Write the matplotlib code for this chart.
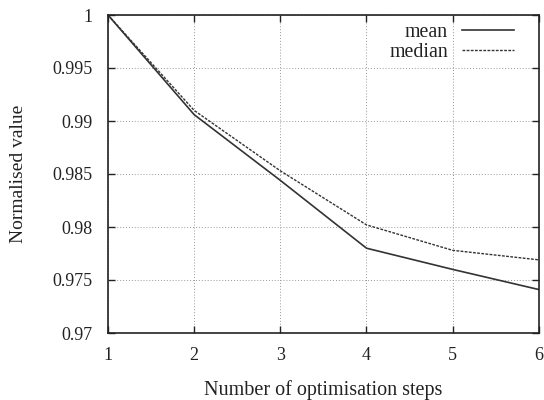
import matplotlib
matplotlib.use("Agg")
import matplotlib.pyplot as plt

# optimisation steps and normalised results
steps = [1, 2, 3, 4, 5, 6]
mean_vals = [1.0, 0.9906, 0.9844, 0.9780, 0.9760, 0.9741]
median_vals = [1.0, 0.9910, 0.9853, 0.9802, 0.9778, 0.9769]

yticks = [0.97, 0.975, 0.98, 0.985, 0.99, 0.995, 1.0]
ytick_labels = ["0.97", "0.975", "0.98", "0.985", "0.99", "0.995", "1"]

plt.rcParams.update({
    "font.family": "Liberation Serif",
    "font.size": 13,
})

fig = plt.figure(figsize=(5.44, 4.0), dpi=100)
ax = fig.add_axes([0.1985, 0.1675, 0.792, 0.795])

ax.plot(steps, mean_vals, color="#333333", linewidth=1.2, linestyle="-", label="mean")
ax.plot(steps, median_vals, color="#333333", linewidth=1.0, linestyle=(0, (2, 1)), label="median")

ax.set_xlim(1, 6)
ax.set_ylim(0.97, 1.0)
ax.set_xticks(steps)
ax.set_yticks(yticks)
ax.set_yticklabels(ytick_labels)

ax.grid(True, color="#999999", linestyle=(0, (1, 2)), linewidth=0.7)
ax.tick_params(direction="in", top=True, right=True, length=5, width=1.0, colors="#222222")
ax.tick_params(axis="x", pad=10)
ax.tick_params(axis="y", pad=11)
for s in ax.spines.values():
    s.set_linewidth(1.2)
    s.set_color("#222222")

ax.set_xlabel("Number of optimisation steps", color="#222222", fontsize=14.5, labelpad=12)
ax.set_ylabel("Normalised value", color="#222222", fontsize=14, labelpad=18)

leg = ax.legend(loc="upper right", bbox_to_anchor=(0.96, 1.0), frameon=False,
                markerfirst=False, fontsize=14.3, handlelength=2.6, handletextpad=0.7,
                borderaxespad=0.0, borderpad=0.4, labelspacing=0.05)
for t in leg.get_texts():
    t.set_color("#222222")

fig.savefig("out.png", dpi=100)
